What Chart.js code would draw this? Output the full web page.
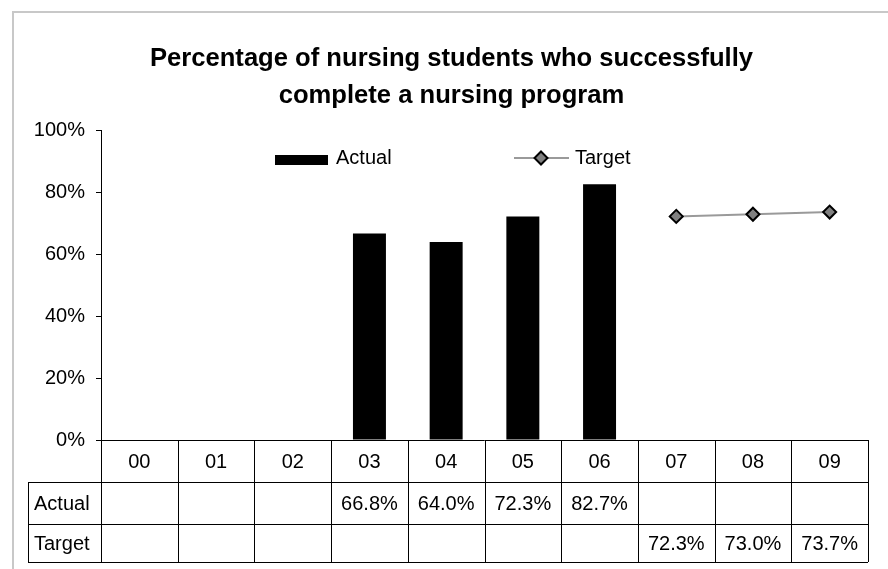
<!DOCTYPE html>
<html>
<head>
<meta charset="utf-8">
<script src="https://cdn.jsdelivr.net/npm/chart.js@4"></script>
<style>
  html, body { margin: 0; padding: 0; background: #fff; }
  #wrap { width: 888px; height: 569px; }
</style>
</head>
<body>
<div id="wrap"><canvas id="chart" width="888" height="569"></canvas></div>
<script>
const CATEGORIES = ["00", "01", "02", "03", "04", "05", "06", "07", "08", "09"];
const ACTUAL = [null, null, null, 66.8, 64.0, 72.3, 82.7, null, null, null];
const TARGET = [null, null, null, null, null, null, null, 72.3, 73.0, 73.7];
const Y_TICKS = [0, 20, 40, 60, 80, 100];
const TITLE_LINES = [
  "Percentage of nursing students who successfully",
  "complete a nursing program",
];

const FONT = "'Liberation Sans', Arial, sans-serif";
Chart.defaults.font.family = FONT;
Chart.defaults.color = "#000";

const fmt = (v) => (v == null ? "" : `${v.toFixed(1)}%`);

// gray outer frame like the spreadsheet chart object
const framePlugin = {
  id: "frame",
  beforeDraw(chart) {
    const { ctx } = chart;
    ctx.save();
    ctx.fillStyle = "#fff";
    ctx.fillRect(0, 0, chart.width, chart.height);
    ctx.strokeStyle = "#c8c8c8";
    ctx.lineWidth = 2;
    ctx.strokeRect(13, 12, chart.width + 10, chart.height + 10);
    ctx.restore();
  },
};

// data table under the plot area
const tablePlugin = {
  id: "dataTable",
  afterDraw(chart) {
    const { ctx, chartArea } = chart;
    const x = chart.scales.x;
    const colW = chartArea.width / CATEGORIES.length;
    const top = chartArea.bottom;
    const rows = [top, top + 42, top + 84, top + 122];
    const labelLeft = 28;

    ctx.save();
    ctx.strokeStyle = "#000";
    ctx.lineWidth = 1;
    ctx.beginPath();
    ctx.moveTo(chartArea.left, rows[0] + 0.5);
    ctx.lineTo(chartArea.right, rows[0] + 0.5);
    for (let r = 1; r < rows.length; r++) {
      ctx.moveTo(labelLeft, rows[r] + 0.5);
      ctx.lineTo(chartArea.right, rows[r] + 0.5);
    }
    for (let i = 0; i <= CATEGORIES.length; i++) {
      const cx = Math.round(chartArea.left + i * colW) + 0.5;
      ctx.moveTo(cx, rows[0]);
      ctx.lineTo(cx, rows[3]);
    }
    ctx.moveTo(labelLeft + 0.5, rows[1]);
    ctx.lineTo(labelLeft + 0.5, rows[3]);
    ctx.stroke();

    ctx.fillStyle = "#000";
    ctx.font = `20px ${FONT}`;
    ctx.textBaseline = "middle";
    ctx.textAlign = "center";
    CATEGORIES.forEach((c, i) => {
      const cx = x.getPixelForValue(i);
      ctx.fillText(c, cx, (rows[0] + rows[1]) / 2 + 1);
      ctx.fillText(fmt(ACTUAL[i]), cx, (rows[1] + rows[2]) / 2 + 1);
      ctx.fillText(fmt(TARGET[i]), cx, (rows[2] + rows[3]) / 2 + 1);
    });
    ctx.textAlign = "left";
    ctx.fillText("Actual", labelLeft + 6, (rows[1] + rows[2]) / 2 + 1);
    ctx.fillText("Target", labelLeft + 6, (rows[2] + rows[3]) / 2 + 1);
    ctx.restore();
  },
};

// legend inside the plot area
const legendPlugin = {
  id: "insideLegend",
  afterDraw(chart) {
    const { ctx } = chart;
    const y = 158;
    ctx.save();
    ctx.fillStyle = "#000";
    ctx.fillRect(275, 155, 53, 10);
    ctx.font = `20px ${FONT}`;
    ctx.textBaseline = "middle";
    ctx.textAlign = "left";
    ctx.fillText("Actual", 336, y);

    ctx.strokeStyle = "#9a9a9a";
    ctx.lineWidth = 2;
    ctx.beginPath();
    ctx.moveTo(514, y);
    ctx.lineTo(569, y);
    ctx.stroke();
    ctx.beginPath();
    ctx.moveTo(541, y - 6.5);
    ctx.lineTo(547.5, y);
    ctx.lineTo(541, y + 6.5);
    ctx.lineTo(534.5, y);
    ctx.closePath();
    ctx.fillStyle = "#808080";
    ctx.fill();
    ctx.strokeStyle = "#000";
    ctx.lineWidth = 2;
    ctx.stroke();
    ctx.fillStyle = "#000";
    ctx.fillText("Target", 575, y);
    ctx.restore();
  },
};

const ctx = document.getElementById("chart").getContext("2d");
new Chart(ctx, {
  data: {
    labels: CATEGORIES,
    datasets: [
      {
        type: "line",
        label: "Target",
        data: TARGET,
        borderColor: "#9a9a9a",
        borderWidth: 2,
        pointStyle: "rectRot",
        pointRadius: 6.5,
        pointBackgroundColor: "#808080",
        pointBorderColor: "#000",
        pointBorderWidth: 2,
        order: 0,
      },
      {
        type: "bar",
        label: "Actual",
        data: ACTUAL,
        backgroundColor: "#000",
        barPercentage: 0.43,
        categoryPercentage: 1,
        order: 1,
      },
    ],
  },
  options: {
    responsive: false,
    animation: false,
    layout: { padding: { left: 35, right: 20, top: 0, bottom: 129 } },
    plugins: {
      legend: { display: false },
      tooltip: { enabled: false },
      title: {
        display: true,
        text: TITLE_LINES,
        color: "#000",
        font: { size: 25.6, weight: "bold", lineHeight: 1.42 },
        padding: { top: 41, bottom: 17 },
      },
    },
    scales: {
      x: {
        display: false,
        offset: true,
      },
      y: {
        min: 0,
        max: 100,
        afterBuildTicks: (scale) => {
          scale.ticks = Y_TICKS.map((v) => ({ value: v }));
        },
        afterFit: (scale) => {
          scale.width = 66;
        },
        ticks: {
          padding: 11,
          color: "#000",
          font: { size: 20 },
          callback: (v) => `${v}%`,
        },
        grid: {
          drawOnChartArea: false,
          drawTicks: true,
          tickLength: 5,
          color: "#000",
        },
        border: { display: true, color: "#000", width: 1 },
      },
    },
  },
  plugins: [framePlugin, tablePlugin, legendPlugin],
});
</script>
</body>
</html>
